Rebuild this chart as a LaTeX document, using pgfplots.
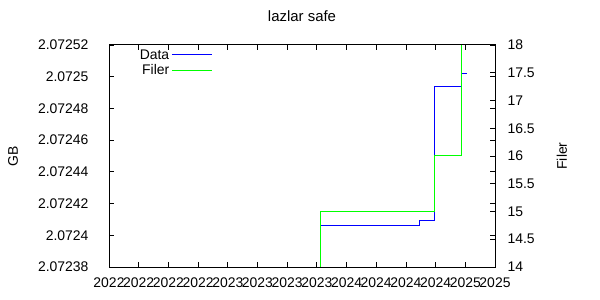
\documentclass[border=0pt]{standalone}
\usepackage{pgfplots}
\pgfplotsset{compat=1.18}
\usepackage{fontspec}
\setmainfont{Liberation Sans}
\definecolor{gpgreen}{RGB}{0,255,0}
\definecolor{gpblue}{RGB}{0,0,255}
% Data: GB values given as offset above 2.07238 GB, in units of 1e-5 GB
% (raw values: 2.0724059, 2.0724092, 2.0724938, 2.0725018)
\pgfplotstableread{
x      dgb
7.13   2.59
10.45  2.92
10.97  11.38
11.87  12.18
12.04  12.18
}\datatable
\pgfplotstableread{
x      filer
6.50   13
7.13   15
10.97  16
11.87  19
12.04  19
}\filertable
\begin{document}
\begin{tikzpicture}
\path[use as bounding box] (0bp,0bp) rectangle (600bp,300bp);
\pgfplotsset{
  every axis/.append style={font=\fontsize{14}{16}\selectfont},
  /pgf/number format/assume math mode=true,
}
\begin{axis}[
  at={(109bp,33bp)}, anchor=south west,
  scale only axis, width=386bp, height=222bp,
  xmin=0, xmax=13, ymin=0, ymax=14,
  xtick={0,...,13},
  xticklabels={2022,2022,2022,2022,2023,2023,2023,2023,2024,2024,2024,2024,2025,2025},
  ytick={0,2,4,6,8,10,12,14},
  yticklabels={2.07238,2.0724,2.07242,2.07244,2.07246,2.07248,2.0725,2.07252},
  tick align=inside, major tick length=5bp,
  xtick pos=both, ytick pos=both,
  tick style={black, line width=0.8bp},
  axis line style={line width=1bp},
  yticklabel style={xshift=-17bp},
  xticklabel style={yshift=-7bp},
  title={lazlar safe},
  title style={at={(0.5,1)}, anchor=center, yshift=23bp, font=\fontsize{15}{17}\selectfont},
  legend plot pos=right,
  legend cell align=right,
  legend style={at={(rel axis cs:0.268,0.99)}, anchor=north east, draw=none, fill=none,
    inner sep=0bp, row sep=0bp, font=\fontsize{14}{16}\selectfont,
    /tikz/every even column/.append style={column sep=13bp}},
  legend image code/.code={\draw[#1] (0bp,0bp) -- (40bp,0bp);},
]
\addplot[const plot, gpblue, line width=1bp, forget plot] table[x=x, y=dgb] {\datatable};
\addlegendimage{gpblue, line width=1bp}
\addlegendentry{Data}
\addlegendimage{gpgreen, line width=1bp}
\addlegendentry{Filer}
\end{axis}
\begin{axis}[
  at={(109bp,33bp)}, anchor=south west,
  scale only axis, width=386bp, height=222bp,
  xmin=0, xmax=13, ymin=14, ymax=18,
  hide x axis,
  ytick={14,14.5,...,18},
  ytick pos=right,
  tick align=inside, major tick length=5bp,
  tick style={black, line width=0.8bp},
  axis line style={line width=1bp},
  yticklabel style={xshift=9bp, anchor=west},
]
\addplot[const plot, gpgreen, line width=1bp] table[x=x, y=filer] {\filertable};
\end{axis}
\node[rotate=90, font=\fontsize{14}{16}\selectfont] at (13bp,144bp) {GB};
\node[rotate=90, font=\fontsize{14}{16}\selectfont] at (562bp,144bp) {Filer};
\end{tikzpicture}
\end{document}
